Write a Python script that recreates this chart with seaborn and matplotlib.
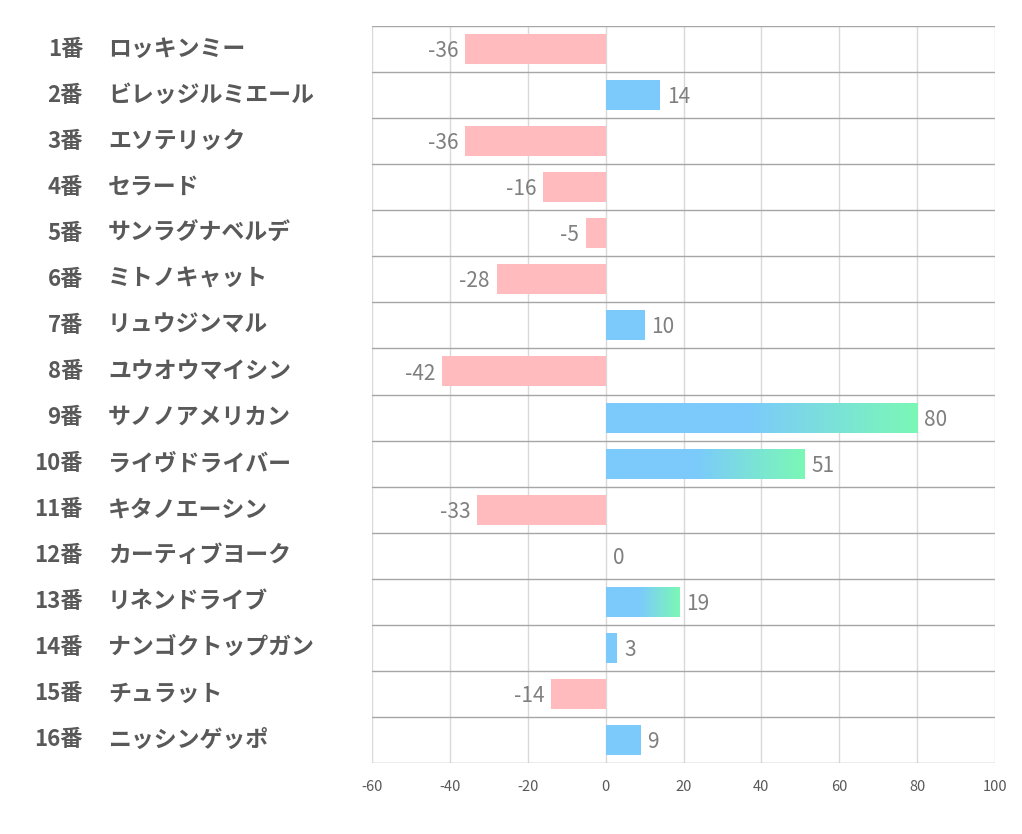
import numpy as np
import pandas as pd
import matplotlib
matplotlib.use("Agg")
import matplotlib.pyplot as plt
import matplotlib.transforms as mtransforms
from matplotlib.colors import LinearSegmentedColormap
import seaborn as sns

numbers = ['1番', '2番', '3番', '4番', '5番', '6番', '7番', '8番',
           '9番', '10番', '11番', '12番', '13番', '14番', '15番', '16番']
names = ['ロッキンミー', 'ビレッジルミエール', 'エソテリック', 'セラード',
         'サンラグナベルデ', 'ミトノキャット', 'リュウジンマル', 'ユウオウマイシン',
         'サノノアメリカン', 'ライヴドライバー', 'キタノエーシン', 'カーティブヨーク',
         'リネンドライブ', 'ナンゴクトップガン', 'チュラット', 'ニッシンゲッポ']
scores = [-36, 14, -36, -16, -5, -28, 10, -42, 80, 51, -33, 0, 19, 3, -14, 9]
# horses drawn with the blue->green gradient
highlight = ['9番', '10番', '13番']
xticks = [-60, -40, -20, 0, 20, 40, 60, 80, 100]

pink = '#ffbbbe'
blue = '#7ccafc'
green = '#7af8b6'
grey_txt = '#595959'

df = pd.DataFrame({'num': numbers, 'name': names, 'score': scores})
df['sign'] = np.where(df['score'] < 0, 'neg', 'pos')

sns.set_style('white')
plt.rcParams['font.family'] = ['Noto Sans CJK JP', 'DejaVu Sans']

fig = plt.figure(figsize=(10.22, 8.34), dpi=100)
ax = fig.add_axes([372 / 1022, 1 - 763 / 834, 623 / 1022, 737 / 834])

sns.barplot(data=df, x='score', y='num', hue='sign', orient='h',
            palette={'neg': pink, 'pos': blue}, width=0.65, saturation=1,
            dodge=False, legend=False, ax=ax, zorder=2, linewidth=0)

ax.set_xticks(xticks)
ax.set_xticklabels([str(t) for t in xticks], color=grey_txt, fontsize=10.5)
ax.tick_params(axis='x', length=0, pad=12)
ax.set_yticks([])
ax.set_xlabel('')
ax.set_ylabel('')
for s in ax.spines.values():
    s.set_visible(False)

for t in xticks:
    ax.axvline(t, color='#d9d9d9', lw=1, zorder=1)
for i in range(len(numbers) + 1):
    ax.axhline(i - 0.5, color='#a6a6a6', lw=1, zorder=1)

# gradient fill for the highlighted bars (patches matched by row position)
cmap = LinearSegmentedColormap.from_list('bg', [(0, blue), (0.45, blue), (1, green)])
grad = np.linspace(0, 1, 256).reshape(1, -1)
for patch in list(ax.patches):
    w, h = patch.get_width(), patch.get_height()
    if h == 0:
        continue
    x0, y0 = patch.get_x(), patch.get_y()
    row = int(round(y0 + h / 2))
    if numbers[row] in highlight and w > 0:
        im = ax.imshow(grad, cmap=cmap, aspect='auto',
                       extent=[x0, x0 + w, y0 + h, y0], zorder=3)
        im.set_clip_path(patch)
ax.set_xlim(-60, 100)
ax.set_ylim(len(numbers) - 0.5, -0.5)

# value labels
for i, v in enumerate(scores):
    if v < 0:
        ax.annotate(str(v), (v, i), xytext=(-5, -1.5), textcoords='offset points',
                    ha='right', va='center', color='#7f7f7f', fontsize=15, zorder=4)
    else:
        ax.annotate(str(v), (v, i), xytext=(5, -1.5), textcoords='offset points',
                    ha='left', va='center', color='#7f7f7f', fontsize=15, zorder=4)

# row labels
trans = mtransforms.blended_transform_factory(fig.transFigure, ax.transData)
for i, (num, name) in enumerate(zip(numbers, names)):
    ax.text(83 / 1022, i, num, transform=trans, ha='right', va='center',
            fontsize=16, fontweight='bold', color=grey_txt)
    ax.text(108 / 1022, i, name, transform=trans, ha='left', va='center',
            fontsize=16.5, fontweight='bold', color=grey_txt)

fig.savefig('out.png', dpi=100)
